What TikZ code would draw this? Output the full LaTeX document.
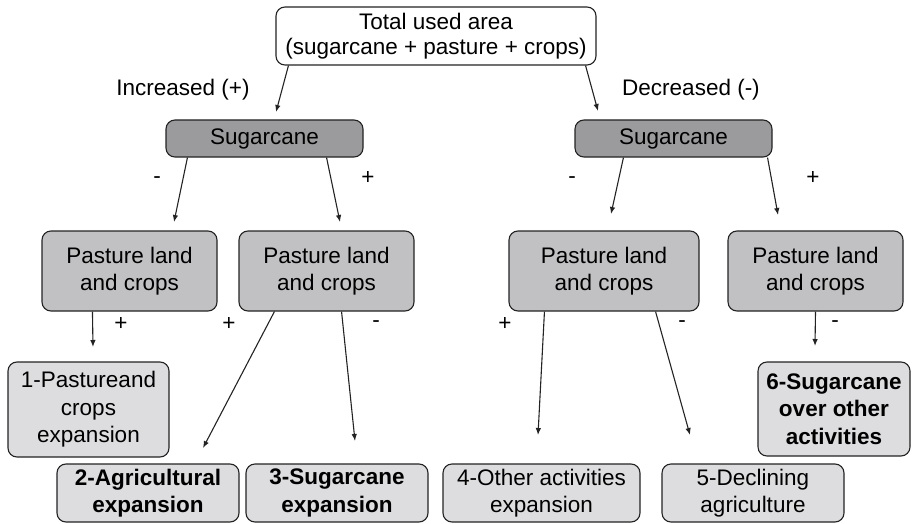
\documentclass[tikz,border=0pt]{standalone}
\usepackage{fontspec}
\setmainfont{Liberation Sans}
\usetikzlibrary{arrows.meta,calc}
\definecolor{darkfill}{RGB}{155,155,157}
\definecolor{midfill}{RGB}{193,193,195}
\definecolor{lightfill}{RGB}{221,221,223}
\definecolor{edge}{RGB}{35,35,35}
\tikzset{
  box/.style={draw=edge, line width=1.1pt, rounded corners=9pt, align=center, inner sep=0pt,
    font=\fontsize{22.5}{27.5}\selectfont},
  topbox/.style={box, fill=white, minimum width=320pt, minimum height=58pt, font=\fontsize{22.5}{25}\selectfont},
  sugbox/.style={box, fill=darkfill, minimum width=197pt, minimum height=37pt},
  pastbox/.style={box, fill=midfill, minimum height=80pt},
  resbox/.style={box, fill=lightfill},
  boldres/.style={resbox, font=\fontsize{22.5}{27.5}\selectfont\bfseries},
  lbl/.style={font=\fontsize{22.5}{26}\selectfont, inner sep=0pt},
  arr/.style={draw=edge, line width=1.1pt, -{Latex[length=7pt,width=5.5pt]}}
}
\begin{document}
\begin{tikzpicture}[x=1pt,y=-1pt]
\useasboundingbox (0,0) rectangle (912,524);
\node[topbox] (top) at (436,36) {Total used area\\(sugarcane + pasture + crops)};
\node[sugbox] (sugL) at (264.5,138.5) {Sugarcane};
\node[sugbox] (sugR) at (673.5,138.5) {Sugarcane};
\node[pastbox, minimum width=175pt] (p1) at (129.5,271) {Pasture land\\and crops};
\node[pastbox, minimum width=175pt] (p2) at (326.5,271) {Pasture land\\and crops};
\node[pastbox, minimum width=190pt] (p3) at (604,271) {Pasture land\\and crops};
\node[pastbox, minimum width=175pt] (p4) at (815.5,271) {Pasture land\\and crops};
\node[resbox, minimum width=161pt, minimum height=95pt] (b1) at (88.5,409.5) {1-Pastureand\\crops\\expansion};
\node[boldres, minimum width=182pt, minimum height=58pt] (b2) at (148,493) {2-Agricultural\\expansion};
\node[boldres, minimum width=182pt, minimum height=58pt] (b3) at (337,493) {3-Sugarcane\\expansion};
\node[resbox, minimum width=197pt, minimum height=58pt] (b4) at (541.5,493) {4-Other activities\\expansion};
\node[resbox, minimum width=182pt, minimum height=58pt] (b5) at (753,493) {5-Declining\\agriculture};
\node[boldres, minimum width=152pt, minimum height=94pt] (b6) at (834,409) {6-Sugarcane\\over other\\activities};

\node[lbl] (inc) at (183,90) {Increased (+)};
\node[lbl] (dec) at (691,90) {Decreased (-)};
\node[lbl] (s1) at (157,180) {-};
\node[lbl] (s2) at (368,178) {+};
\node[lbl] (s3) at (572,180) {-};
\node[lbl] (s4) at (813,178) {+};
\node[lbl] (s5) at (121,324) {+};
\node[lbl] (s6) at (229,324) {+};
\node[lbl] (s7) at (376,324) {-};
\node[lbl] (s8) at (505,324) {+};
\node[lbl] (s9) at (682,324) {-};
\node[lbl] (s10) at (835,324) {-};

\coordinate (e1) at (276,112);
\coordinate (e2) at (598,111);
\coordinate (e3) at (174,222);
\coordinate (e4) at (340,222);
\coordinate (e5) at (611,214);
\coordinate (e6) at (778,215);
\coordinate (e7) at (93,347);
\coordinate (e8) at (203,448);
\coordinate (e9) at (355,441);
\coordinate (e10) at (538,435);
\coordinate (e11) at (690,435);
\coordinate (e12) at (815,346);

\draw[arr] ([xshift=13pt]top.south west) -- (e1);
\draw[arr] ([xshift=-11pt]top.south east) -- (e2);
\draw[arr] ([xshift=22pt]sugL.south west) -- (e3);
\draw[arr] ([xshift=-37pt]sugL.south east) -- (e4);
\draw[arr] ([xshift=49pt]sugR.south west) -- (e5);
\draw[arr] ([xshift=-5pt]sugR.south east) -- (e6);
\draw[arr] ([xshift=51pt]p1.south west) -- (e7);
\draw[arr] ([xshift=36pt]p2.south west) -- (e8);
\draw[arr] ([xshift=-73pt]p2.south east) -- (e9);
\draw[arr] ([xshift=36pt]p3.south west) -- (e10);
\draw[arr] ([xshift=-44pt]p3.south east) -- (e11);
\draw[arr] (p4.south) -- (e12);
\end{tikzpicture}
\end{document}
